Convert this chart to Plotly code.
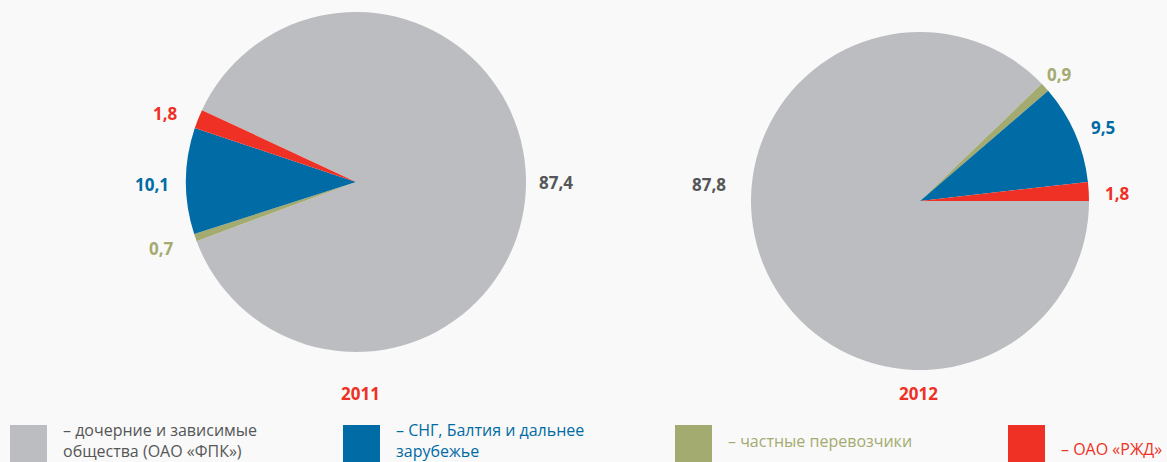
import plotly.graph_objects as go

# ---------------- data ----------------
categories = [
    "дочерние и зависимые общества (ОАО «ФПК»)",
    "СНГ, Балтия и дальнее зарубежье",
    "частные перевозчики",
    "ОАО «РЖД»",
]
legend_labels = [
    "– дочерние и зависимые<br>общества (ОАО «ФПК»)",
    "– СНГ, Балтия и дальнее<br>зарубежье",
    "– частные перевозчики",
    "– ОАО «РЖД»",
]
years = ["2011", "2012"]
values_2011 = [87.4, 10.1, 0.7, 1.8]
values_2012 = [87.8, 9.5, 0.9, 1.8]

# ---------------- style ----------------
W, H = 1167, 462
slice_colors = ["#bcbdc1", "#006ba4", "#a4ab70", "#ee3124"]
text_colors = ["#555657", "#006ba4", "#a4ab70", "#ee3124"]
bg = "#f9f9f9"
FONT = "Open Sans"

# draw order around the pie (clockwise): grey, green, blue, red
draw_order = [0, 2, 1, 3]

pies = [
    dict(values=values_2011, year=years[0], rotation=-65,
         dom_x=((356 - 200) / W, (356 + 200) / W),
         dom_y=(1 - 352 / H, 1 - 12 / H),
         label_px=[(556, 183), (152, 184), (161, 248), (165, 114)],
         year_px=(360, 393)),
    dict(values=values_2012, year=years[1], rotation=90,
         dom_x=((920 - 200) / W, (920 + 200) / W),
         dom_y=(1 - 370 / H, 1 - 32 / H),
         label_px=[(709, 184), (1103, 128), (1059, 74), (1117, 193)],
         year_px=(918, 393)),
]


def px2paper(x, y):
    return x / W, 1 - y / H


def fmt(v):
    return f"{v:.1f}".replace(".", ",")


fig = go.Figure()
annotations = []

for p in pies:
    vals = p["values"]
    fig.add_trace(go.Pie(
        labels=[categories[i] for i in draw_order],
        values=[vals[i] for i in draw_order],
        marker=dict(colors=[slice_colors[i] for i in draw_order],
                    line=dict(width=0)),
        sort=False,
        direction="clockwise",
        rotation=p["rotation"],
        textinfo="none",
        domain=dict(x=list(p["dom_x"]), y=list(p["dom_y"])),
        showlegend=False,
        name=p["year"],
    ))
    for i, (lx, ly) in enumerate(p["label_px"]):
        x, y = px2paper(lx, ly)
        annotations.append(dict(
            x=x, y=y, xref="paper", yref="paper", showarrow=False,
            text=fmt(vals[i]), xanchor="center", yanchor="middle",
            font=dict(family=FONT, size=17, color=text_colors[i], weight=700),
        ))
    x, y = px2paper(*p["year_px"])
    annotations.append(dict(
        x=x, y=y, xref="paper", yref="paper", showarrow=False,
        text=p["year"], xanchor="center", yanchor="middle",
        font=dict(family=FONT, size=17, color="#ee3124", weight=700),
    ))

# ---------------- custom legend ----------------
legend_sq_x = [10, 343, 675, 1008]
legend_txt_x = [61, 394, 726, 1059]
legend_txt_top = [417, 417, 428, 436]
shapes = []
for i in range(len(categories)):
    x0, y0 = px2paper(legend_sq_x[i], 425)
    x1, y1 = px2paper(legend_sq_x[i] + 37, 475)
    shapes.append(dict(type="rect", xref="paper", yref="paper",
                       x0=x0, x1=x1, y0=y1, y1=y0,
                       fillcolor=slice_colors[i], line=dict(width=0)))
    tx, ty = px2paper(legend_txt_x[i], legend_txt_top[i])
    annotations.append(dict(
        x=tx, y=ty, xref="paper", yref="paper", showarrow=False,
        text=legend_labels[i], xanchor="left", yanchor="top", align="left",
        font=dict(family=FONT, size=16, color=text_colors[i]),
    ))

fig.update_layout(
    width=W, height=H,
    margin=dict(l=0, r=0, t=0, b=0),
    paper_bgcolor=bg, plot_bgcolor=bg,
    annotations=annotations,
    shapes=shapes,
    showlegend=False,
)

fig.write_html(
    "out.html",
    config={"displayModeBar": False},
    post_script="document.body.style.margin='0';document.body.style.padding='0';"
                "document.body.style.overflow='hidden';",
)
